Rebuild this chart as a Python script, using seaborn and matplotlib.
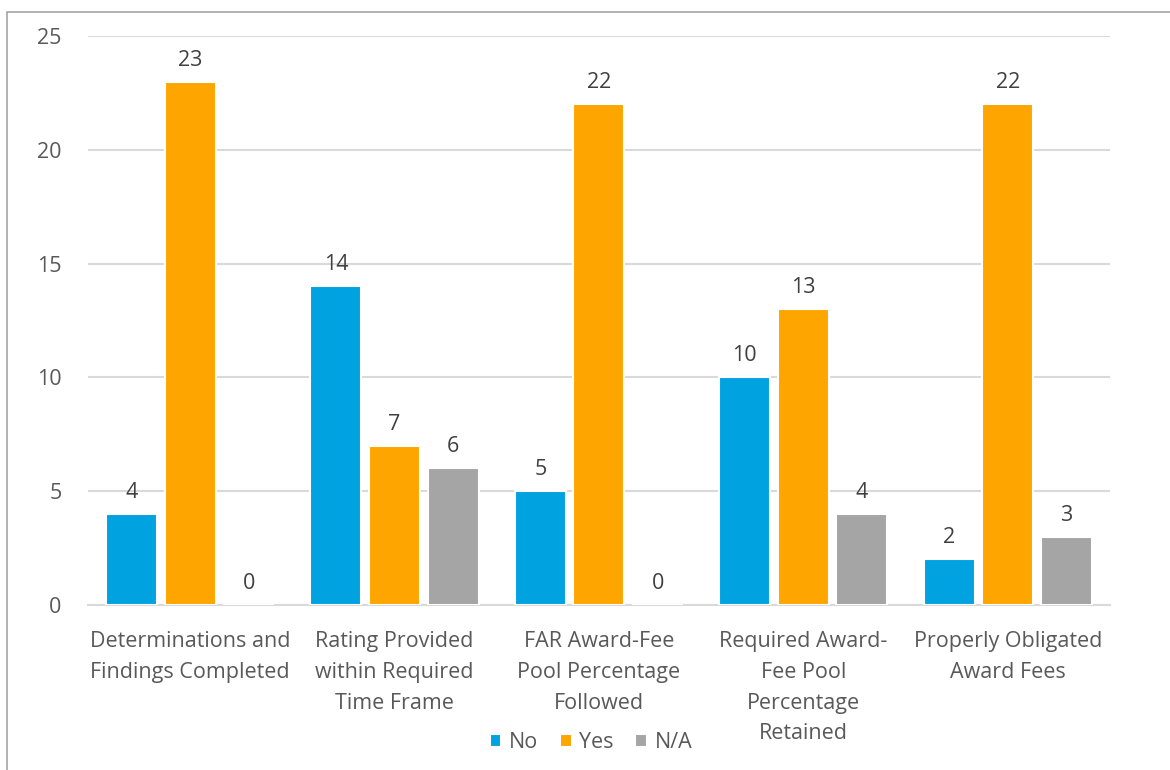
import matplotlib
matplotlib.use("Agg")
import matplotlib.pyplot as plt
from matplotlib.patches import Rectangle
import seaborn as sns
import pandas as pd

categories = [
    "Determinations and\nFindings Completed",
    "Rating Provided\nwithin Required\nTime Frame",
    "FAR Award-Fee\nPool Percentage\nFollowed",
    "Required Award-\nFee Pool\nPercentage\nRetained",
    "Properly Obligated\nAward Fees",
]
no_counts = [4, 14, 5, 10, 2]
yes_counts = [23, 7, 22, 13, 22]
na_counts = [0, 6, 0, 4, 3]
responses = ["No", "Yes", "N/A"]
colors = ["#00A3E0", "#FFA500", "#A5A5A5"]
y_ticks = [0, 5, 10, 15, 20, 25]

df = pd.DataFrame({"category": categories, "No": no_counts,
                   "Yes": yes_counts, "N/A": na_counts})
long_df = df.melt(id_vars="category", var_name="response", value_name="count")

sns.set_theme(style="white")
plt.rcParams["font.family"] = ["Open Sans", "DejaVu Sans"]
text_color = "#595959"
fs = 15.5

fig = plt.figure(figsize=(11.7, 7.7), dpi=100)
ax = fig.add_axes([0.0752, 0.2143, 0.8735, 0.7387])

sns.barplot(data=long_df, x="category", y="count", hue="response",
            hue_order=responses, palette=colors, width=0.86, gap=0.13,
            edgecolor="white", linewidth=1.5, saturation=1, ax=ax, zorder=3)

for container in ax.containers:
    ax.bar_label(container, padding=8, fontsize=fs, color="#404040")

ax.set_ylim(0, 25)
ax.set_xlim(-0.5, 4.5)
ax.set_yticks(y_ticks)
ax.yaxis.grid(True, color="#D9D9D9", linewidth=1.5, zorder=0)
ax.set_axisbelow(True)
for side in ["top", "right", "left"]:
    ax.spines[side].set_visible(False)
ax.spines["bottom"].set_color("#D9D9D9")
ax.spines["bottom"].set_linewidth(1.5)
ax.set_xlabel("")
ax.set_ylabel("")
ax.tick_params(axis="y", length=0, pad=19, labelsize=fs, labelcolor=text_color)
ax.tick_params(axis="x", length=0, pad=19, labelsize=fs, labelcolor=text_color)
for lbl in ax.get_xticklabels():
    lbl.set_linespacing(1.6)

ax.legend(loc="center", bbox_to_anchor=(0.505, 0.036), bbox_transform=fig.transFigure,
          ncol=3, frameon=False, fontsize=fs, handlelength=0.55, handleheight=0.55,
          handletextpad=0.35, columnspacing=1.0, labelcolor=text_color)

# outer chart border
fig.patches.append(Rectangle((7 / 1170, -0.01), 1.02, 1 - 12 / 770 + 0.01,
                             transform=fig.transFigure, fill=False,
                             edgecolor="#A6A6A6", linewidth=1.2))

fig.savefig("out.png", dpi=100)
